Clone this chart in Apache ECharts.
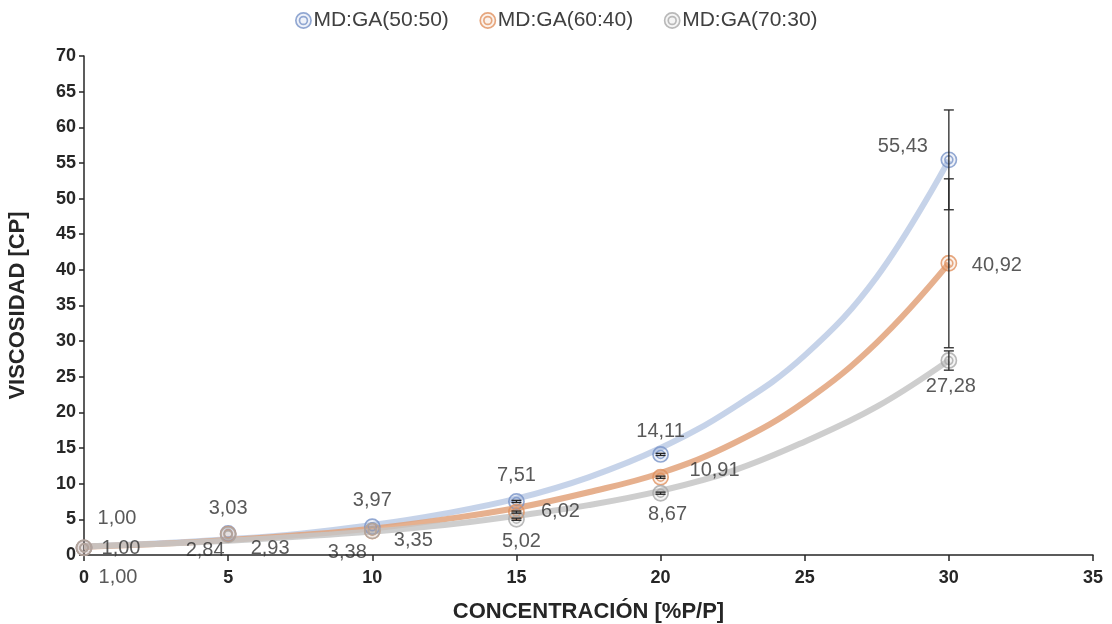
<!DOCTYPE html>
<html>
<head>
<meta charset="utf-8">
<script src="https://cdn.jsdelivr.net/npm/echarts@6/dist/echarts.min.js"></script>
<style>html,body{margin:0;padding:0;background:#fff;}#c{width:1112px;height:624px;}</style>
</head>
<body>
<div id="c"></div>
<script>
// ---- data ----
const xValues = [0, 5, 10, 15, 20, 30];
const seriesNames = ['MD:GA(50:50)', 'MD:GA(60:40)', 'MD:GA(70:30)'];
const visc5050 = [1.00, 3.03, 3.97, 7.51, 14.11, 55.43];
const visc6040 = [1.00, 2.93, 3.35, 6.02, 10.91, 40.92];
const visc7030 = [1.00, 2.84, 3.38, 5.02, 8.67, 27.28];
const err5050 = [0, 0, 0, 0.15, 0.15, 7.0];
const err6040 = [0, 0, 0, 0.15, 0.15, 11.85];
const err7030 = [0, 0, 0, 0.15, 0.15, 1.35];
// trend curves
const trendX = [0, 2.5, 5, 7.5, 10, 12.5, 15, 17.5, 20, 22.5, 25, 27.5, 30];
const trend5050 = [1.2, 1.6, 2.2, 3.0, 4.2, 5.8, 7.9, 10.9, 15.0, 20.6, 28.0, 39.0, 55.4];
const trend6040 = [1.15, 1.55, 2.1, 2.8, 3.7, 5.0, 6.6, 8.8, 11.5, 15.6, 21.5, 29.8, 40.9];
const trend7030 = [1.2, 1.55, 2.0, 2.6, 3.3, 4.2, 5.5, 7.0, 9.0, 11.8, 15.9, 20.8, 27.3];
const xTicks = [0, 5, 10, 15, 20, 25, 30, 35];
const yTicks = [0, 5, 10, 15, 20, 25, 30, 35, 40, 45, 50, 55, 60, 65, 70];

// ---- styling ----
const markerColors = ['#7893c8', '#e0915e', '#a8a8a8'];
const lineColors = ['#bccbe5', '#e2a27a', '#c6c6c6'];
const labelOffsets = [
  [[33, -29], [0, -25], [0, -26], [0, -26], [0, -23], [-46, -13]],
  [[37, 1], [42, 14], [41, 9], [44, -1], [54, -7], [48, 2]],
  [[34, 30], [-23, 16], [-25, 22], [5, 22], [7, 21], [2, 26]]
];
function ringIcon(c) {
  const svg = "<svg xmlns='http://www.w3.org/2000/svg' width='32' height='32'>" +
    "<circle cx='16' cy='16' r='13.5' fill='" + c + "' fill-opacity='0.15' stroke='" + c + "' stroke-width='3'/>" +
    "<circle cx='16' cy='16' r='7' fill='none' stroke='" + c + "' stroke-width='3'/></svg>";
  return 'image://data:image/svg+xml;charset=utf-8,' + encodeURIComponent(svg);
}
const fmt = v => v.toFixed(2).replace('.', ',');
const FONT = 'Liberation Sans, Arial, sans-serif';
const TXT = '#262626';

const values = [visc5050, visc6040, visc7030];
const errs = [err5050, err6040, err7030];
const trends = [trend5050, trend6040, trend7030];

const series = [];
// trend lines
trends.forEach((t, i) => {
  series.push({
    type: 'line', name: seriesNames[i] + ' trend', smooth: 0.4, showSymbol: false, silent: true,
    data: trendX.map((x, k) => [x, t[k]]),
    lineStyle: { color: lineColors[i], width: 6, opacity: 0.85 },
    z: 1 + i * 0.1, legendHoverLink: false
  });
});
// points
values.forEach((vals, i) => {
  series.push({
    type: 'scatter', name: seriesNames[i], symbol: ringIcon(markerColors[i]), symbolSize: 18,
    data: xValues.map((x, k) => ({
      value: [x, vals[k]],
      label: { offset: labelOffsets[i][k] }
    })),
    label: {
      show: true, position: 'inside', align: 'center', verticalAlign: 'middle',
      formatter: p => fmt(p.value[1]), color: '#303030', fontSize: 20, fontFamily: FONT
    },
    z: 3
  });
});
// error bars
values.forEach((vals, i) => {
  series.push({
    type: 'custom', name: seriesNames[i] + ' err', silent: true, z: 4,
    data: xValues.map((x, k) => [x, vals[k], errs[i][k]]).filter(d => d[2] > 0),
    renderItem: (params, api) => {
      const x = api.value(0), y = api.value(1), e = api.value(2);
      const top = api.coord([x, y + e]);
      const bot = api.coord([x, y - e]);
      const hw = 5;
      const st = { stroke: '#262626', lineWidth: 1.3 };
      return {
        type: 'group', children: [
          { type: 'line', shape: { x1: top[0], y1: top[1], x2: bot[0], y2: bot[1] }, style: st },
          { type: 'line', shape: { x1: top[0] - hw, y1: top[1], x2: top[0] + hw, y2: top[1] }, style: st },
          { type: 'line', shape: { x1: bot[0] - hw, y1: bot[1], x2: bot[0] + hw, y2: bot[1] }, style: st }
        ]
      };
    }
  });
});

const chart = echarts.init(document.getElementById('c'));
chart.setOption({
  animation: false,
  backgroundColor: '#fff',
  textStyle: { fontFamily: FONT },
  legend: {
    top: 5, left: 'center', itemGap: 30, itemWidth: 18, itemHeight: 18,
    data: seriesNames.map((n, i) => ({ name: n, icon: ringIcon(markerColors[i]) })),
    textStyle: { fontSize: 21, color: '#404040', fontFamily: FONT, padding: [0, 0, 0, -4] }
  },
  grid: { left: 84, right: 19, top: 56, bottom: 69, containLabel: false, outerBoundsMode: 'none' },
  xAxis: {
    type: 'value', min: xTicks[0], max: xTicks[xTicks.length - 1], interval: 5,
    name: 'CONCENTRACIÓN [%P/P]', nameLocation: 'middle', nameGap: 46,
    nameTextStyle: { fontSize: 22, fontWeight: 'bold', color: TXT, fontFamily: FONT },
    axisLine: { show: true, lineStyle: { color: TXT, width: 1.5 } },
    axisTick: { show: true, length: 6, lineStyle: { color: TXT, width: 1.5 } },
    axisLabel: { fontSize: 18, fontWeight: 'bold', color: TXT, margin: 14, fontFamily: FONT },
    splitLine: { show: false }
  },
  yAxis: {
    type: 'value', min: yTicks[0], max: yTicks[yTicks.length - 1], interval: 5,
    name: 'VISCOSIDAD [CP]', nameLocation: 'middle', nameGap: 55, nameRotate: 90,
    nameTextStyle: { fontSize: 22, fontWeight: 'bold', color: TXT, fontFamily: FONT },
    axisLine: { show: true, lineStyle: { color: TXT, width: 1.5 } },
    axisTick: { show: true, length: 5, lineStyle: { color: TXT, width: 1.5 } },
    axisLabel: { fontSize: 18, fontWeight: 'bold', color: TXT, margin: 8, fontFamily: FONT },
    splitLine: { show: false }
  },
  series: series
});
</script>
</body>
</html>
